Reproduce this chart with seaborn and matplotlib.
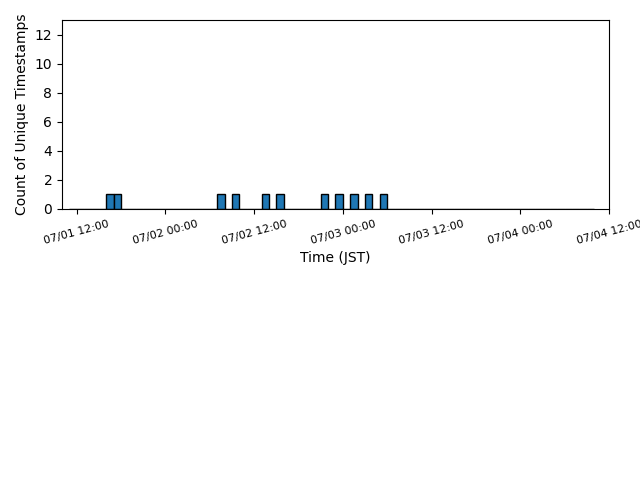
import matplotlib
matplotlib.use("Agg")
import matplotlib.pyplot as plt
import matplotlib.dates as mdates
import seaborn as sns
import pandas as pd
import numpy as np

# Unique timestamps (JST), one per occupied hourly bin
timestamps = [
    "2024-07-01 16:20", "2024-07-01 17:20",
    "2024-07-02 07:20", "2024-07-02 09:20",
    "2024-07-02 13:20", "2024-07-02 15:20",
    "2024-07-02 21:20", "2024-07-02 23:20",
    "2024-07-03 01:20", "2024-07-03 03:20", "2024-07-03 05:20",
]
bin_start = "2024-07-01 11:00"
bin_end = "2024-07-04 10:00"
x_start = "2024-07-01 10:00"
x_end = "2024-07-04 12:00"

ts = pd.to_datetime(timestamps)
x = mdates.date2num(ts.to_pydatetime())
edges = mdates.date2num(pd.date_range(bin_start, bin_end, freq="h").to_pydatetime())

fig = plt.figure(figsize=(6.4, 4.8), dpi=100)
ax = fig.add_axes([62/640, 1 - 209/480, (609-62)/640, (209-20)/480])
sns.histplot(x=x, bins=edges, ax=ax, color="#1f77b4", edgecolor="black",
             alpha=1, linewidth=1)

ax.set_xlim(mdates.date2num(pd.Timestamp(x_start).to_pydatetime()),
            mdates.date2num(pd.Timestamp(x_end).to_pydatetime()))
ax.set_ylim(0, 13)
ax.set_yticks([0, 2, 4, 6, 8, 10, 12])
ax.xaxis.set_major_locator(mdates.HourLocator(byhour=[0, 12]))
ax.xaxis.set_major_formatter(mdates.DateFormatter("%m/%d %H:%M"))
for lab in ax.get_xticklabels():
    lab.set_rotation(15)
    lab.set_fontsize(8)
    lab.set_ha("center")
ax.set_xlabel("Time (JST)")
ax.set_ylabel("Count of Unique Timestamps")

fig.savefig("out.png", dpi=100)
